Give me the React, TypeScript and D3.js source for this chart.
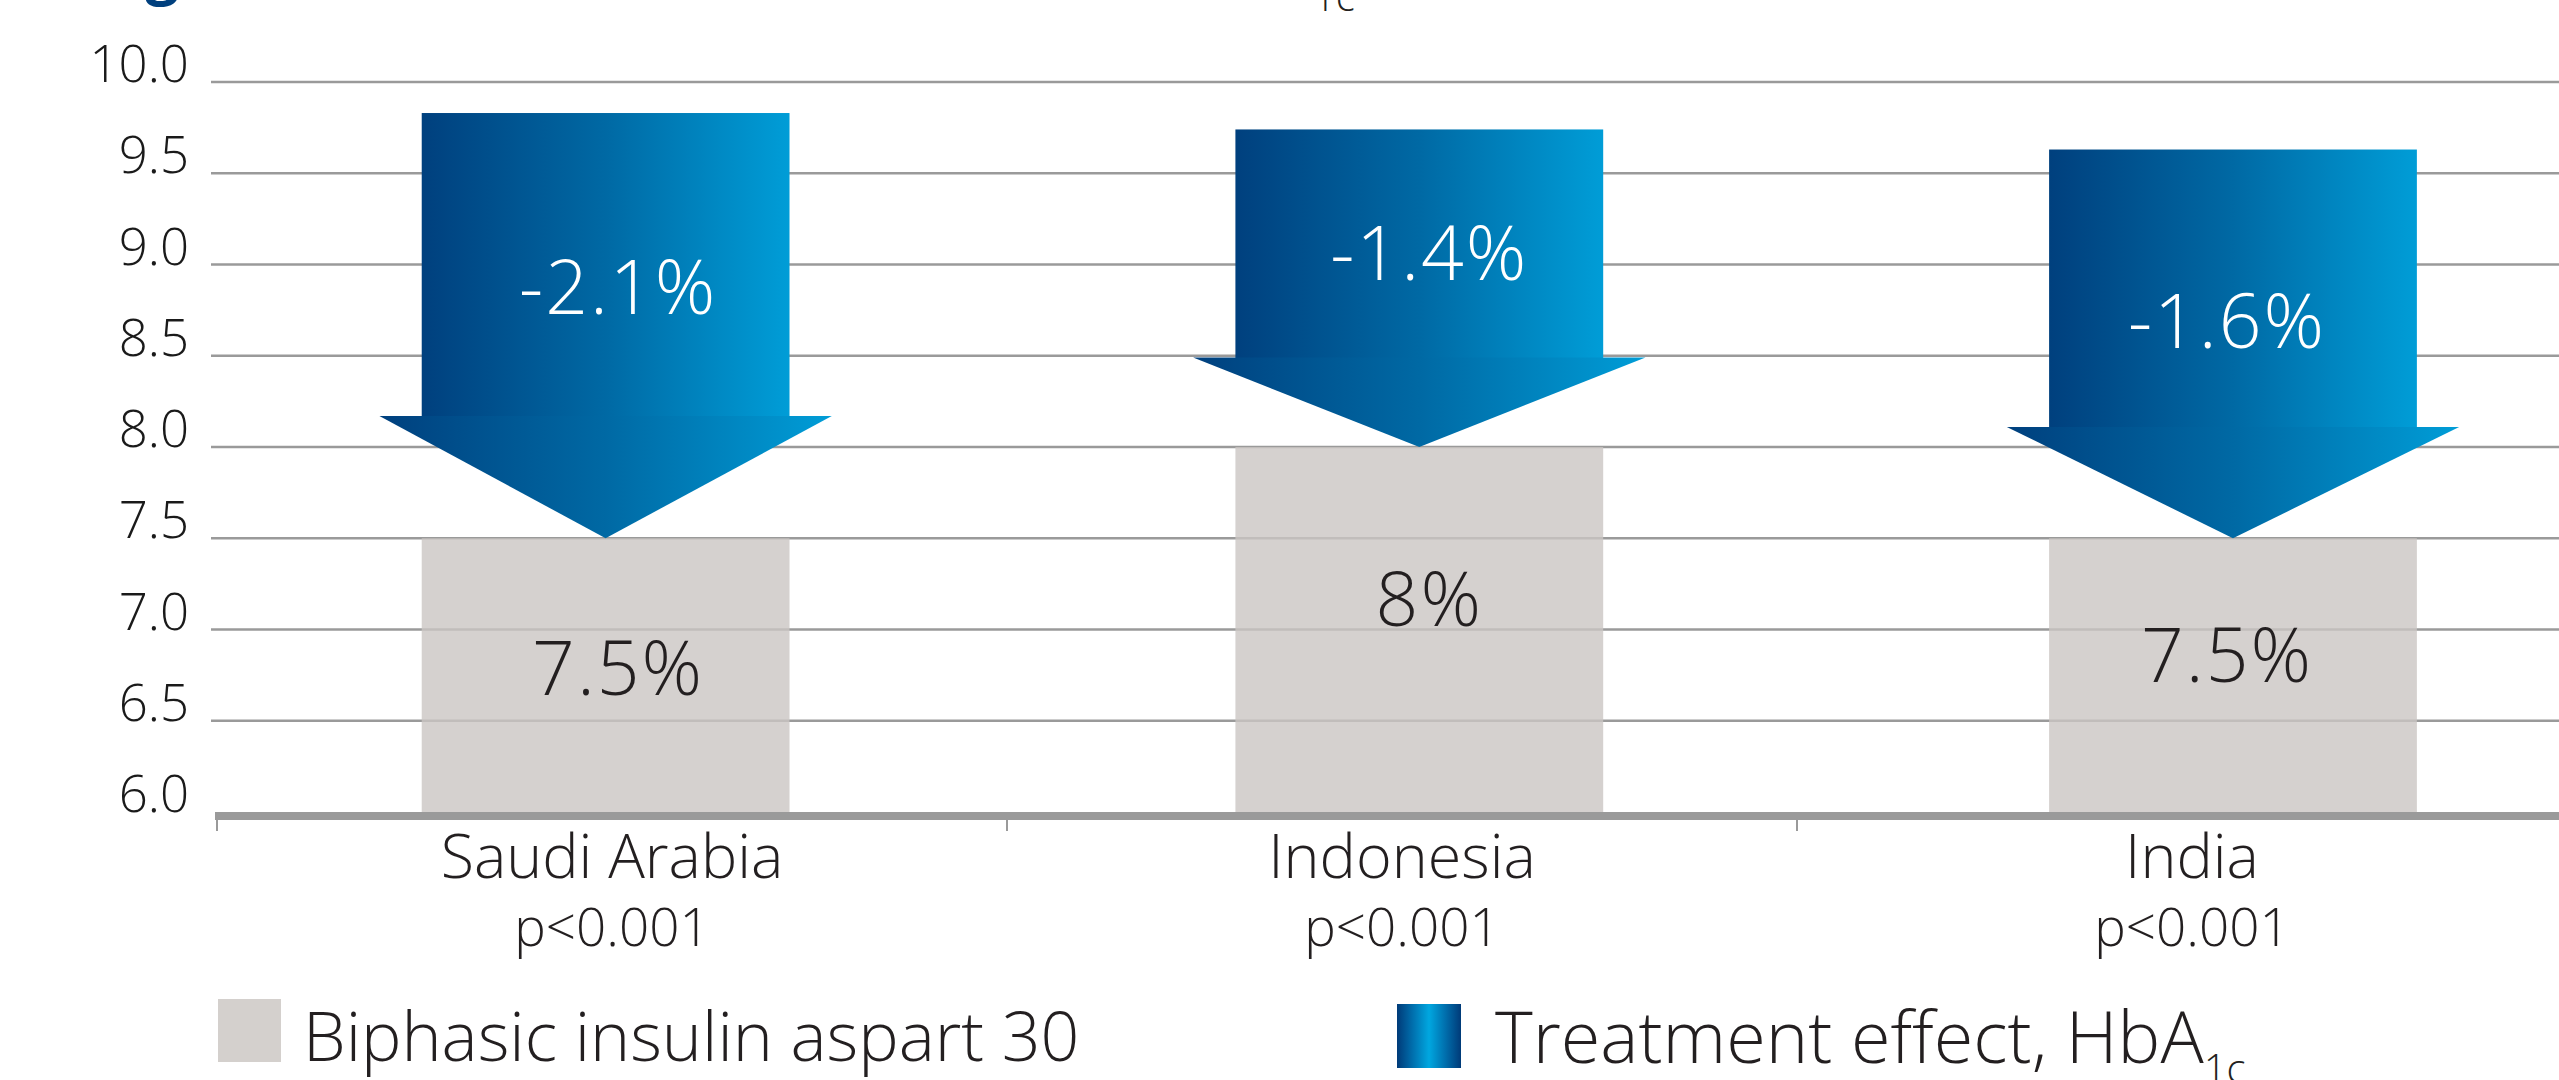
import React, { useEffect } from "react";
import * as d3 from "d3";

// ---- data ----
const categories = ["Saudi Arabia", "Indonesia", "India"];
const pValues = ["p<0.001", "p<0.001", "p<0.001"];
const endValues = [7.5, 8.0, 7.5]; // Biphasic insulin aspart 30, HbA1c (%)
const endLabels = ["7.5%", "8%", "7.5%"];
const changeLabels = ["-2.1%", "-1.4%", "-1.6%"];
const arrowTop = [9.83, 9.74, 9.63]; // top of each arrow shaft (HbA1c units)
const arrowHeadTop = [8.17, 8.49, 8.11]; // where the arrow head begins
const endLabelAt = [6.64, 7.02, 6.71]; // baseline of the value label in grey bar
const changeLabelAt = [8.73, 8.915, 8.54]; // baseline of the change label in arrow
const yTicks = [6.0, 6.5, 7.0, 7.5, 8.0, 8.5, 9.0, 9.5, 10.0];
const legendItems = ["Biphasic insulin aspart 30", "Treatment effect, HbA"];

// ---- layout ----
const W = 2559;
const H = 1080;
const FONT = "'Open Sans', 'Noto Sans', sans-serif";
const LABEL_DX = [12.5, 10, -6];

export default function App() {
  useEffect(() => {
    document.body.style.margin = "0";
  }, []);

  const y = d3.scaleLinear().domain([6, 10]).range([812, 82]);
  const xAxis = d3.scaleBand().domain(categories).range([217, 2587]);
  const xBar = d3
    .scaleBand()
    .domain(categories)
    .range([217, 2621.6])
    .paddingInner(0.548)
    .paddingOuter(0.2516);
  const bw = xBar.bandwidth();
  const headOver = bw * 0.115;

  return (
    <svg
      width={W}
      height={H}
      style={{ position: "absolute", left: 0, top: 0, display: "block" }}
      fontFamily={FONT}
    >
      <defs>
        <linearGradient id="arrowGrad" x1="0" x2="1" y1="0" y2="0">
          <stop offset="0" stopColor="#00407e" />
          <stop offset="0.5" stopColor="#0069a4" />
          <stop offset="1" stopColor="#009dd7" />
        </linearGradient>
        <linearGradient id="legendGrad" x1="0" x2="1" y1="0" y2="0">
          <stop offset="0" stopColor="#003a78" />
          <stop offset="0.25" stopColor="#0070ae" />
          <stop offset="0.5" stopColor="#00a7e0" />
          <stop offset="0.75" stopColor="#0070ae" />
          <stop offset="1" stopColor="#003a78" />
        </linearGradient>
      </defs>
      <rect x={0} y={0} width={W} height={H} fill="#ffffff" />

      {/* cut-off title remnants visible at the top edge */}
      <text x={94} y={-8} fontSize={60} fontWeight={700} fill="#00407e">
        Figure 1
      </text>
      <text x={1313} y={11} fontSize={40} fontWeight={300} fill="#231f20">
        1c
      </text>

      {/* gridlines */}
      {yTicks.slice(1).map((t) => (
        <line
          key={"g" + t}
          x1={211}
          x2={W}
          y1={y(t)}
          y2={y(t)}
          stroke="#9a9a9a"
          strokeWidth={2.5}
        />
      ))}

      {/* grey bars */}
      {categories.map((c, i) => (
        <rect
          key={"b" + c}
          x={xBar(c)}
          y={y(endValues[i])}
          width={bw}
          height={y(6) - y(endValues[i])}
          fill="#cbc6c3"
          fillOpacity={0.8}
        />
      ))}

      {/* arrows */}
      {categories.map((c, i) => {
        const x0 = xBar(c)!;
        const cx = x0 + bw / 2;
        const tri = d3.path();
        tri.moveTo(x0 - headOver, y(arrowHeadTop[i]));
        tri.lineTo(x0 + bw + headOver, y(arrowHeadTop[i]));
        tri.lineTo(cx, y(endValues[i]));
        tri.closePath();
        return (
          <g key={"a" + c}>
            <rect
              x={x0}
              y={y(arrowTop[i])}
              width={bw}
              height={y(arrowHeadTop[i]) - y(arrowTop[i]) + 0.5}
              fill="url(#arrowGrad)"
            />
            <path d={tri.toString()} fill="url(#arrowGrad)" />
          </g>
        );
      })}

      {/* labels in bars and arrows */}
      {categories.map((c, i) => {
        const cx = xBar(c)! + bw / 2 + LABEL_DX[i];
        return (
          <g key={"l" + c} textAnchor="middle" fontSize={75} fontWeight={300} letterSpacing={2}>
            <text x={cx} y={y(changeLabelAt[i])} fill="#ffffff">
              {changeLabels[i]}
            </text>
            <text x={cx} y={y(endLabelAt[i])} fill="#231f20">
              {endLabels[i]}
            </text>
          </g>
        );
      })}

      {/* y axis tick labels */}
      {yTicks.map((t) => (
        <text
          key={"t" + t}
          x={189}
          y={y(t)}
          textAnchor="end"
          fontSize={51}
          fontWeight={300}
          fill="#1a1a1a"
        >
          {d3.format(".1f")(t)}
        </text>
      ))}

      {/* x axis */}
      <line x1={215} x2={W} y1={816} y2={816} stroke="#9a9a9a" strokeWidth={8} />
      {categories.map((c) => (
        <line
          key={"tk" + c}
          x1={xAxis(c)}
          x2={xAxis(c)}
          y1={820}
          y2={831}
          stroke="#9a9a9a"
          strokeWidth={2}
        />
      ))}
      {categories.map((c, i) => {
        const cx = xAxis(c)! + xAxis.bandwidth() / 2;
        return (
          <g key={"c" + c} textAnchor="middle" fill="#231f20" fontWeight={300}>
            <text x={cx} y={878} fontSize={61}>
              {c}
            </text>
            <text x={cx} y={946} fontSize={53}>
              {pValues[i]}
            </text>
          </g>
        );
      })}

      {/* legend */}
      <rect x={218} y={999} width={63} height={63} fill="#d4d0cd" />
      <text x={303} y={1061} fontSize={68} fontWeight={300} fill="#231f20">
        {legendItems[0]}
      </text>
      <rect x={1397} y={1004} width={64} height={64} fill="url(#legendGrad)" />
      <text x={1495} y={1063} fontSize={72} fontWeight={300} fill="#231f20">
        {legendItems[1]}
        <tspan fontSize={40} dy={20}>
          1c
        </tspan>
      </text>
    </svg>
  );
}
